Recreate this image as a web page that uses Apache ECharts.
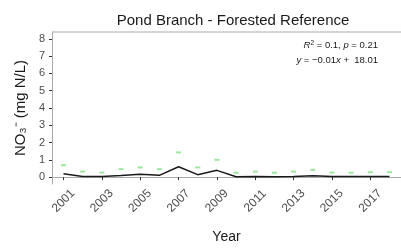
<!DOCTYPE html>
<html>
<head>
<meta charset="utf-8">
<script src="https://cdn.jsdelivr.net/npm/echarts@6/dist/echarts.min.js"></script>
<style>
  html, body { margin: 0; padding: 0; background: #fff; }
  #chart { width: 401px; height: 249px; }
</style>
</head>
<body>
<div id="chart"></div>
<script>
// data
const years = [2001, 2002, 2003, 2004, 2005, 2006, 2007, 2008, 2009, 2010, 2011, 2012, 2013, 2014, 2015, 2016, 2017, 2018];
const meanNO3 = [0.2, 0.04, 0.04, 0.09, 0.16, 0.1, 0.6, 0.14, 0.39, 0.02, 0.03, 0.02, 0.03, 0.08, 0.03, 0.03, 0.03, 0.03];
const upperNO3 = [0.69, 0.32, 0.26, 0.46, 0.56, 0.46, 1.43, 0.56, 1.0, 0.25, 0.32, 0.25, 0.32, 0.42, 0.26, 0.25, 0.28, 0.28];
const xTicks = [2001, 2003, 2005, 2007, 2009, 2011, 2013, 2015, 2017];
const yTicks = [0, 1, 2, 3, 4, 5, 6, 7, 8];

const chart = echarts.init(document.getElementById("chart"));

const font = "Liberation Sans";

const option = {
  backgroundColor: "#fff",
  animation: false,
  title: {
    text: "Pond Branch - Forested Reference",
    left: 228,
    textAlign: "center",
    top: 8,
    textStyle: { fontFamily: font, fontSize: 15, fontWeight: "normal", color: "#1a1a1a" },
  },
  grid: { left: 52, top: 32, width: 350, height: 166 },
  xAxis: {
    type: "value",
    min: 2000.4,
    max: 2018.6,
    name: "Year",
    nameLocation: "middle",
    nameGap: 46,
    nameTextStyle: { fontFamily: font, fontSize: 14, color: "#1a1a1a" },
    axisLine: { show: true, lineStyle: { color: "#aaa", width: 1 } },
    axisTick: { show: true, length: 3, lineStyle: { color: "#333" }, customValues: xTicks },
    axisLabel: {
      customValues: xTicks,
      rotate: 45,
      align: "center",
      verticalAlign: "middle",
      margin: 17,
      fontFamily: font,
      fontSize: 12,
      color: "#4d4d4d",
      formatter: (v) => String(v),
    },
    splitLine: { show: false },
  },
  yAxis: {
    type: "value",
    min: -0.4,
    max: 8.4,
    name: "NO\u2083\u207B (mg N/L)",
    nameLocation: "middle",
    nameGap: 23,
    nameTextStyle: { fontFamily: font, fontSize: 15, color: "#1a1a1a" },
    axisLine: { show: true, lineStyle: { color: "#aaa", width: 1 } },
    axisTick: { show: true, length: 3, lineStyle: { color: "#333" }, customValues: yTicks },
    axisLabel: {
      customValues: yTicks,
      margin: 7,
      fontFamily: font,
      fontSize: 11,
      color: "#4d4d4d",
    },
    splitLine: { show: false },
  },
  graphic: [
    // top border of the panel
    {
      type: "line",
      shape: { x1: 52, y1: 32, x2: 402, y2: 32 },
      style: { stroke: "#aaa", lineWidth: 1 },
      silent: true,
    },
    {
      type: "text",
      right: 23,
      top: 40,
      style: {
        text: "{i|R}{s|2} = 0.1, {i|p} = 0.21",
        align: "right",
        fill: "#1a1a1a",
        font: "9.5px 'Liberation Sans'",
        rich: {
          i: { fontStyle: "italic", fontFamily: font, fontSize: 9.5 },
          s: { fontSize: 6.5, verticalAlign: "top", padding: [0, 0, 4, 0] },
        },
      },
    },
    {
      type: "text",
      right: 23,
      top: 55,
      style: {
        text: "{i|y} = \u22120.01{i|x} +  18.01",
        align: "right",
        fill: "#1a1a1a",
        font: "9.5px 'Liberation Sans'",
        rich: {
          i: { fontStyle: "italic", fontFamily: font, fontSize: 9.5 },
        },
      },
    },
  ],
  series: [
    {
      type: "scatter",
      data: years.map((y, i) => [y, upperNO3[i]]),
      symbol: "rect",
      symbolSize: [5, 2],
      itemStyle: { color: "#86e086" },
      z: 2,
    },
    {
      type: "line",
      data: years.map((y, i) => [y, meanNO3[i]]),
      showSymbol: false,
      lineStyle: { color: "#1a1a1a", width: 1.5 },
      z: 3,
    },
  ],
};

chart.setOption(option);
</script>
</body>
</html>
